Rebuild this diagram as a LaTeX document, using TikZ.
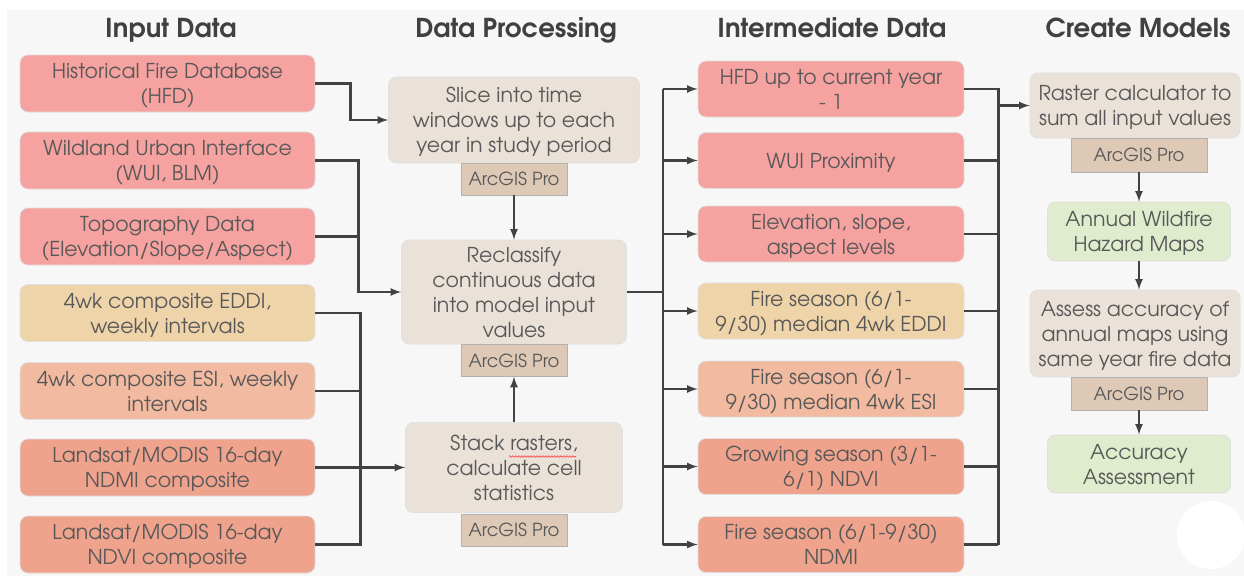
\documentclass[tikz,border=0pt]{standalone}
\usepackage{fontspec}
\setmainfont{TeX Gyre Adventor}
\usetikzlibrary{arrows,decorations.pathmorphing}

\definecolor{bg}{RGB}{247,247,247}
\definecolor{txt}{RGB}{88,88,88}
\definecolor{head}{RGB}{64,64,64}
\definecolor{line}{RGB}{66,66,66}
\definecolor{pink}{RGB}{245,162,160}
\definecolor{tan}{RGB}{239,212,170}
\definecolor{lsalmon}{RGB}{242,186,160}
\definecolor{salmon}{RGB}{239,163,140}
\definecolor{beige}{RGB}{234,226,217}
\definecolor{tool}{RGB}{222,201,183}
\definecolor{mint}{RGB}{223,236,205}

\begin{document}
\begin{tikzpicture}[
	x=1pt, y=-1pt, >=latex,
	box/.style={rectangle,rounded corners=8pt,draw=black!12,line width=0.8pt,align=center,text=txt,font=\fontsize{20.5}{25}\selectfont,text depth=0pt,inner sep=0pt},
	inbox/.style={box,minimum width=295pt,minimum height=57pt},
	procbox/.style={box,fill=beige},
	midbox/.style={box,minimum width=266pt,minimum height=56pt},
	toolbox/.style={rectangle,draw=black!30,fill=tool,minimum width=106pt,minimum height=32pt,text=txt,font=\fontsize{18}{20}\selectfont,inner sep=0pt},
	heading/.style={text=head,font=\bfseries\fontsize{26}{28}\selectfont,text depth=0pt},
	link/.style={draw=line,line width=2.6pt},
	flow/.style={link,->}
	]
	\useasboundingbox (0,0) rectangle (1244,576);
	\fill[white] (0,0) rectangle (1244,576);
	\fill[bg] (7,10) rectangle (1244,576);

	% column titles
	\node[heading] (t1) at (171,28) {Input Data};
	\node[heading] (t2) at (516,28) {Data Processing};
	\node[heading] (t3) at (832,28) {Intermediate Data};
	\node[heading] (t4) at (1138,28) {Create Models};

	% input data
	\node[inbox,fill=pink] (hfd) at (167.5,83.5) {Historical Fire Database\\(HFD)};
	\node[inbox,fill=pink] (wui) at (167.5,160.5) {Wildland Urban Interface\\(WUI, BLM)};
	\node[inbox,fill=pink] (topo) at (167.5,236.5) {Topography Data\\(Elevation/Slope/Aspect)};
	\node[inbox,fill=tan] (eddi) at (167.5,313) {4wk composite EDDI,\\weekly intervals};
	\node[inbox,fill=lsalmon] (esi) at (167.5,391) {4wk composite ESI, weekly\\intervals};
	\node[inbox,fill=salmon] (ndmi) at (167.5,467.5) {Landsat/MODIS 16-day\\NDMI composite};
	\node[inbox,fill=salmon] (ndvi) at (167.5,544.5) {Landsat/MODIS 16-day\\NDVI composite};

	% data processing
	\node[procbox,minimum width=251pt,minimum height=86pt] (slice) at (514,120) {Slice into time\\windows up to each\\year in study period};
	\node[toolbox] (arc1) at (514,179) {ArcGIS Pro};
	\node[procbox,minimum width=225pt,minimum height=104pt] (recl) at (514,292) {Reclassify\\continuous data\\into model input\\values};
	\node[toolbox] (arc2) at (514,360.5) {ArcGIS Pro};
	\node[procbox,minimum width=217pt,minimum height=90pt] (stack) at (514,467.5) {Stack rasters,\\calculate cell\\statistics};
	\node[toolbox] (arc3) at (514,530) {ArcGIS Pro};
	\draw[red!80,line width=0.6pt,decorate,decoration={snake,amplitude=0.8pt,segment length=3pt}]
		([xshift=-5pt,yshift=11pt]stack.center) -- ([xshift=62pt,yshift=11pt]stack.center);

	% intermediate data
	\node[midbox,fill=pink] (hfdy) at (831,89) {HFD up to current year\\- 1};
	\node[midbox,fill=pink] (wuip) at (831,160.5) {WUI Proximity};
	\node[midbox,fill=pink] (elev) at (831,234) {Elevation, slope,\\aspect levels};
	\node[midbox,fill=tan] (eddim) at (831,311) {Fire season (6/1-\\9/30) median 4wk EDDI};
	\node[midbox,fill=lsalmon] (esim) at (831,389) {Fire season (6/1-\\9/30) median 4wk ESI};
	\node[midbox,fill=salmon] (ndvim) at (831,466.5) {Growing season (3/1-\\6/1) NDVI};
	\node[midbox,fill=salmon] (ndmim) at (831,544.5) {Fire season (6/1-9/30)\\NDMI};

	% create models
	\node[procbox,minimum width=210pt,minimum height=65pt] (rast) at (1135,105.5) {Raster calculator to\\sum all input values};
	\node[toolbox,minimum width=136pt,minimum height=34pt] (arc4) at (1139,155) {ArcGIS Pro};
	\node[box,fill=mint,minimum width=183pt,minimum height=59pt] (maps) at (1139,231.5) {Annual Wildfire\\Hazard Maps};
	\node[procbox,minimum width=210pt,minimum height=87pt] (assess) at (1135,333.5) {Assess accuracy of\\annual maps using\\same year fire data};
	\node[toolbox,minimum width=136pt,minimum height=33pt] (arc5) at (1139,393.5) {ArcGIS Pro};
	\node[box,fill=mint,minimum width=183pt,minimum height=58pt] (acc) at (1139,464) {Accuracy\\Assessment};

	\fill[white] (1211,535) circle (34pt);

	% inputs to processing
	\draw[flow] (hfd.east) -- ++(35,0) |- (slice.west);
	\draw[flow] (wui.east) -- ++(43,0) coordinate (ja) |- (recl.west);
	\draw[link] (topo.east) -- (ja |- topo.east);
	\draw[link] (eddi.east) -- ++(45,0) coordinate (jb) -- (jb |- ndvi.east) -- (ndvi.east);
	\draw[link] (esi.east) -- (jb |- esi.east);
	\draw[flow] (ndmi.east) -- (stack.west);
	\draw[flow] (arc1.south) -- (recl.north);
	\draw[flow] (stack.north) -- (arc2.south);

	% processing to intermediate
	\draw[link] (recl.east) -- ++(36,0) coordinate (jc);
	\draw[link] (jc |- hfdy.west) -- (jc |- ndmim.west);
	\foreach \n in {hfdy,wuip,elev,eddim,esim,ndvim,ndmim}
		\draw[flow] (jc |- \n.west) -- (\n.west);

	% intermediate to models
	\draw[link] (hfdy.east) -- ++(34,0) coordinate (jd) -- (jd |- ndmim.east);
	\foreach \n in {wuip,elev,eddim,esim,ndvim,ndmim}
		\draw[link] (\n.east) -- (jd |- \n.east);
	\draw[flow] (jd |- rast.west) -- (rast.west);
	\draw[flow] (arc4.south) -- (maps.north);
	\draw[flow] (maps.south) -- (maps.south |- assess.north);
	\draw[flow] (arc5.south) -- (acc.north);
\end{tikzpicture}
\end{document}
